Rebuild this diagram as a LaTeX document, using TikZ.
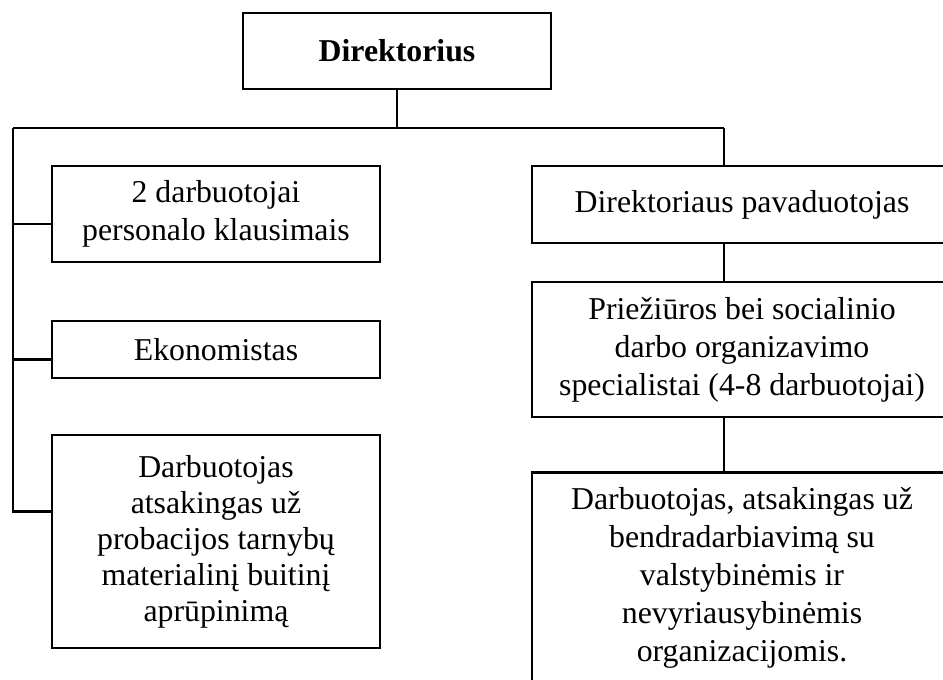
\documentclass[tikz,border=0pt]{standalone}
\usepackage{fontspec}
\setmainfont{Liberation Serif}
\usetikzlibrary{positioning}
\usetikzlibrary{calc}
\tikzset{every picture/.style={line width=1.2pt},box/.style={draw,align=center,inner sep=0pt,font=\fontsize{15.9}{19}\selectfont}}
\begin{document}
\begin{tikzpicture}[x=0.5pt,y=-0.5pt]
\clip (0,0) rectangle (943,680);
\node[box,minimum width=154pt,minimum height=38pt,font=\fontsize{15.9}{19}\selectfont\bfseries] (dir) at (397,51) {Direktorius};
\coordinate (busL) at (13,128);
\coordinate (busR) at (724,128);
\node[box,minimum width=164pt,minimum height=48pt] (pers) at (216,214) {2 darbuotojai\\personalo klausimais};
\node[box,minimum width=164pt,minimum height=28.5pt] (ekon) at (216,349.5) {Ekonomistas};
\node[box,minimum width=164pt,minimum height=106.5pt,font=\fontsize{15.9}{18}\selectfont] (ukis) at (216,541.5) {Darbuotojas\\atsakingas už\\probacijos tarnybų\\materialinį buitinį\\aprūpinimą};
\node[box,minimum width=210pt,minimum height=38.5pt] (pav) at (742,204.5) {Direktoriaus pavaduotojas};
\node[box,minimum width=210pt,minimum height=67.5pt] (spec) at (742,349.5) {Priežiūros bei socialinio\\darbo organizavimo\\specialistai (4-8 darbuotojai)};
\node[box,minimum width=210pt,minimum height=105pt] (bendr) at (742,577.5) {Darbuotojas, atsakingas už\\bendradarbiavimą su\\valstybinėmis ir\\nevyriausybinėmis\\organizacijomis.};
\draw (dir.south) -- (dir.south |- busL);
\draw (busL) -- (busR);
\draw (busL) |- ([yshift=15pt]ukis.west);
\draw ([yshift=-5pt]pers.west) -- ([yshift=-5pt]pers.west -| busL);
\draw ([yshift=-5pt]ekon.west) -- ([yshift=-5pt]ekon.west -| busL);
\draw (busR) -- (busR |- pav.north);
\draw (pav.south -| busR) -- (spec.north -| busR);
\draw (spec.south -| busR) -- (bendr.north -| busR);
\end{tikzpicture}
\end{document}
